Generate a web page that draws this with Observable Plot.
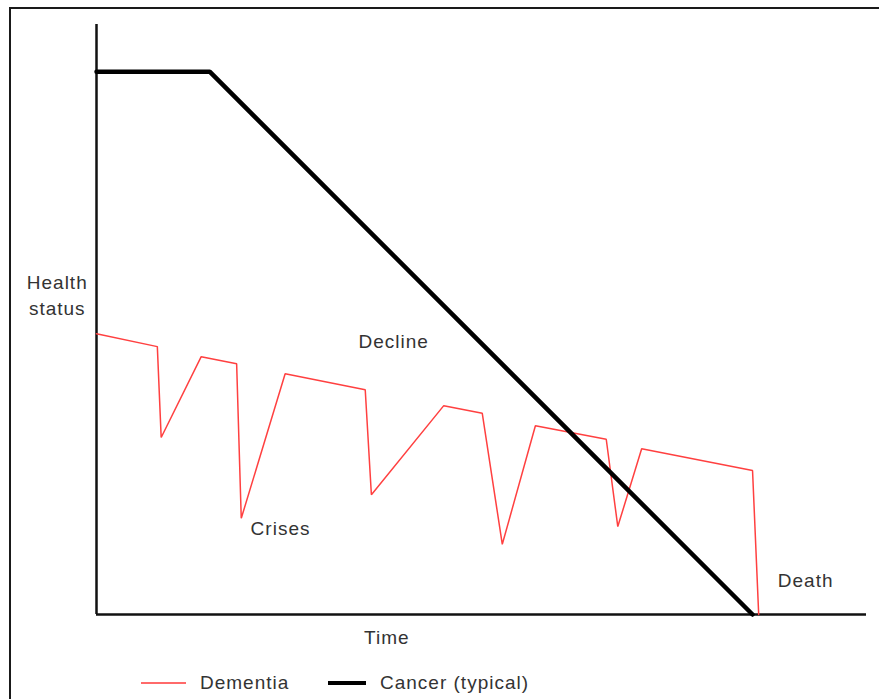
<!DOCTYPE html>
<html>
<head>
<meta charset="utf-8">
<script src="https://cdn.jsdelivr.net/npm/d3@7"></script>
<script src="https://cdn.jsdelivr.net/npm/@observablehq/plot@0.6"></script>
<style>
  html, body { margin: 0; padding: 0; background: #fff; }
  body { width: 879px; height: 699px; position: relative; overflow: hidden; font-family: "Liberation Sans", Arial, sans-serif; }
  #frame { position: absolute; left: 9px; top: 7px; width: 880px; height: 700px; border-left: 2px solid #1a1a1a; border-top: 2px solid #1a1a1a; }
  #chart { position: absolute; left: 0; top: 0; }
  #legend { position: absolute; top: 671px; left: 0; width: 879px; height: 24px; font-size: 19px; letter-spacing: 1px; color: #333; }
  .item { position: absolute; top: 0; display: flex; align-items: center; height: 24px; }
  .sw { display: inline-block; margin-right: 14px; }
</style>
</head>
<body>
<div id="frame"></div>
<div id="chart"></div>
<div id="legend"></div>
<script>
// Series: time (0–100) and health status (0–100)
const cancerTime   = [0, 14.7, 85.2];
const cancerHealth = [92, 92, 0];

const dementiaTime   = [0, 7.9, 8.4, 13.6, 18.2, 18.8, 24.5, 34.9, 35.7, 45.1, 50.1, 52.7, 57.0, 66.2, 67.7, 70.8, 85.2, 86.0];
const dementiaHealth = [47.6, 45.4, 30.0, 43.7, 42.5, 16.3, 40.8, 38.1, 20.3, 35.4, 34.1, 11.9, 32.0, 29.7, 14.9, 28.1, 24.4, 0];

// Annotation labels
const labelText = ["Health\nstatus", "Decline", "Crises", "Death", "Time"];
const labelTime = [-5.1, 38.6, 23.9, 92.1, 37.7];
const labelHealth = [54.4, 46.6, 14.9, 6.0, -3.6];

// Legend
const seriesNames = ["Dementia", "Cancer (typical)"];
const seriesColors = ["#ff4040", "#000000"];

const cancer = cancerTime.map((t, i) => ({t, h: cancerHealth[i]}));
const dementia = dementiaTime.map((t, i) => ({t, h: dementiaHealth[i]}));
const labels = labelText.map((s, i) => ({s, t: labelTime[i], h: labelHealth[i]}));

const chart = Plot.plot({
  width: 879,
  height: 660,
  marginLeft: 96,
  marginRight: 13,
  marginTop: 24,
  marginBottom: 46,
  x: {domain: [0, 100], axis: null},
  y: {domain: [0, 100], axis: null},
  style: {fontFamily: "'Liberation Sans', Arial, sans-serif", fontSize: "19px", letterSpacing: "1px", background: "transparent"},
  marks: [
    Plot.ruleX([0], {y1: 0, y2: 100, stroke: "#111", strokeWidth: 2.5}),
    Plot.ruleY([0], {x1: 0, x2: 100, stroke: "#111", strokeWidth: 2.5}),
    Plot.line(dementia, {x: "t", y: "h", stroke: seriesColors[0], strokeWidth: 1.5, strokeLinejoin: "miter"}),
    Plot.line(cancer, {x: "t", y: "h", stroke: seriesColors[1], strokeWidth: 4.5, strokeLinejoin: "miter"}),
    Plot.text(labels, {x: "t", y: "h", text: "s", fill: "#333", fontSize: 19, lineHeight: 1.35})
  ]
});
document.getElementById("chart").appendChild(chart);

const legend = document.getElementById("legend");
const positions = [[141, 45, 2], [328, 38, 4]];
seriesNames.forEach((name, i) => {
  const item = document.createElement("div");
  item.className = "item";
  item.style.left = positions[i][0] + "px";
  const sw = document.createElement("span");
  sw.className = "sw";
  sw.style.width = positions[i][1] + "px";
  sw.style.height = positions[i][2] + "px";
  sw.style.background = i === 0 ? "#ff6a6a" : seriesColors[i];
  item.appendChild(sw);
  const tx = document.createElement("span");
  tx.textContent = name;
  item.appendChild(tx);
  legend.appendChild(item);
});
</script>
</body>
</html>
